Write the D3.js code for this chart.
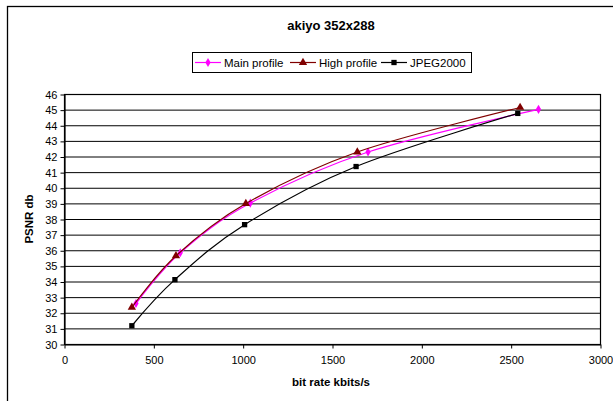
<!DOCTYPE html>
<html>
<head>
<meta charset="utf-8">
<script src="https://cdn.jsdelivr.net/npm/d3@7"></script>
<style>
  body { margin: 0; background: #fff; }
  text { font-family: Arial, "Liberation Sans", sans-serif; }
</style>
</head>
<body>
<script>
// data
var seriesNames = ['Main profile', 'High profile', 'JPEG2000'];
var mainRate = [400, 648, 1040, 1699, 2653];
var mainPsnr = [32.62, 35.87, 39.05, 42.32, 45.05];
var highRate = [377, 624, 1015, 1639, 2550];
var highPsnr = [32.38, 35.68, 39.02, 42.32, 45.17];
var jpegRate = [377, 618, 1008, 1632, 2537];
var jpegPsnr = [31.2, 34.15, 37.67, 41.39, 44.79];
var xTicks = [0, 500, 1000, 1500, 2000, 2500, 3000];
var yTicks = d3.range(30, 47);

var width = 613;
var height = 401;

var margin = {
    left: 64.5,
    right: 12.5,
    top: 94.5,
    bottom: 56.5
}

var x = d3.scaleLinear()
    .domain([0, 3000])
    .range([margin.left, width - margin.right]);

var y = d3.scaleLinear()
    .domain([30, 46])
    .range([height - margin.bottom, margin.top]);

var svg = d3.select("body").append("svg")
    .attr("width", width).attr("height", height);

// outer chart border (runs off the right and bottom edges)
svg.append("rect")
    .attr("x", 7.5).attr("y", 6.5)
    .attr("width", 700).attr("height", 500)
    .attr("fill", "none").attr("stroke", "#000").attr("stroke-width", 1.3);

// title
svg.append("text")
    .attr("x", 331).attr("y", 30)
    .attr("text-anchor", "middle")
    .attr("font-size", "13px").attr("font-weight", "bold")
    .text("akiyo 352x288");

// horizontal gridlines
svg.append("g")
    .selectAll("line")
    .data(yTicks)
    .join("line")
    .attr("x1", x(0)).attr("x2", x(3000))
    .attr("y1", function (d) { return y(d); })
    .attr("y2", function (d) { return y(d); })
    .attr("stroke", "#000").attr("stroke-width", 1);

// plot frame
svg.append("rect")
    .attr("x", x(0)).attr("y", y(46))
    .attr("width", x(3000) - x(0)).attr("height", y(30) - y(46))
    .attr("fill", "none").attr("stroke", "#000").attr("stroke-width", 1.2);

var yAxis = d3.axisLeft(y).tickValues(yTicks).tickSize(4).tickPadding(3).tickSizeOuter(0);
var xAxis = d3.axisBottom(x).tickValues(xTicks).tickFormat(d3.format("d"))
    .tickSize(4).tickPadding(8).tickSizeOuter(0);

var yg = svg.append("g").attr("transform", "translate(" + x(0) + ",0)").call(yAxis);
var xg = svg.append("g").attr("transform", "translate(0," + y(30) + ")").call(xAxis);
[yg, xg].forEach(function (g) {
    g.select(".domain").attr("stroke", "#000").attr("stroke-width", 1.2);
    g.selectAll(".tick line").attr("stroke", "#000");
    g.selectAll("text").attr("font-size", "11px").attr("fill", "#000")
        .attr("font-family", "Arial, 'Liberation Sans', sans-serif");
});

// axis titles
svg.append("text")
    .attr("transform", "translate(33,219) rotate(-90)")
    .attr("text-anchor", "middle")
    .attr("font-size", "11.5px").attr("font-weight", "bold")
    .text("PSNR db");

svg.append("text")
    .attr("x", 331).attr("y", 386)
    .attr("text-anchor", "middle")
    .attr("font-size", "11.5px").attr("font-weight", "bold")
    .text("bit rate kbits/s");

var series = [
    { name: seriesNames[0], xs: mainRate, ys: mainPsnr, color: "#ff00ff", sym: d3.symbolDiamond, size: 24 },
    { name: seriesNames[1], xs: highRate, ys: highPsnr, color: "#800000", sym: d3.symbolTriangle, size: 30 },
    { name: seriesNames[2], xs: jpegRate, ys: jpegPsnr, color: "#000000", sym: d3.symbolSquare, size: 28 }
];

var line = d3.line()
    .x(function (d) { return x(d[0]); })
    .y(function (d) { return y(d[1]); })
    .curve(d3.curveCardinal.tension(0));

var plot = svg.append("g");
series.forEach(function (s) {
    var pts = s.xs.map(function (v, i) { return [v, s.ys[i]]; });
    plot.append("path")
        .attr("d", line(pts))
        .attr("fill", "none").attr("stroke", s.color).attr("stroke-width", 1.2);
    plot.selectAll(null)
        .data(pts)
        .join("path")
        .attr("transform", function (d) { return "translate(" + x(d[0]) + "," + y(d[1]) + ")"; })
        .attr("d", d3.symbol().type(s.sym).size(s.size))
        .attr("fill", s.color);
});

// legend
var legend = svg.append("g");
legend.append("rect")
    .attr("x", 192.5).attr("y", 52.5)
    .attr("width", 279).attr("height", 20)
    .attr("fill", "#fff").attr("stroke", "#000").attr("stroke-width", 1);

var legendX = [195, 290, 381];
series.forEach(function (s, i) {
    var lx = legendX[i];
    legend.append("line")
        .attr("x1", lx).attr("x2", lx + 26)
        .attr("y1", 62.5).attr("y2", 62.5)
        .attr("stroke", s.color).attr("stroke-width", 1.2);
    legend.append("path")
        .attr("transform", "translate(" + (lx + 13) + ",62.5)")
        .attr("d", d3.symbol().type(s.sym).size(s.size))
        .attr("fill", s.color);
    legend.append("text")
        .attr("x", lx + 29).attr("y", 66.5)
        .attr("font-size", "11.5px")
        .text(s.name);
});
</script>
</body>
</html>
